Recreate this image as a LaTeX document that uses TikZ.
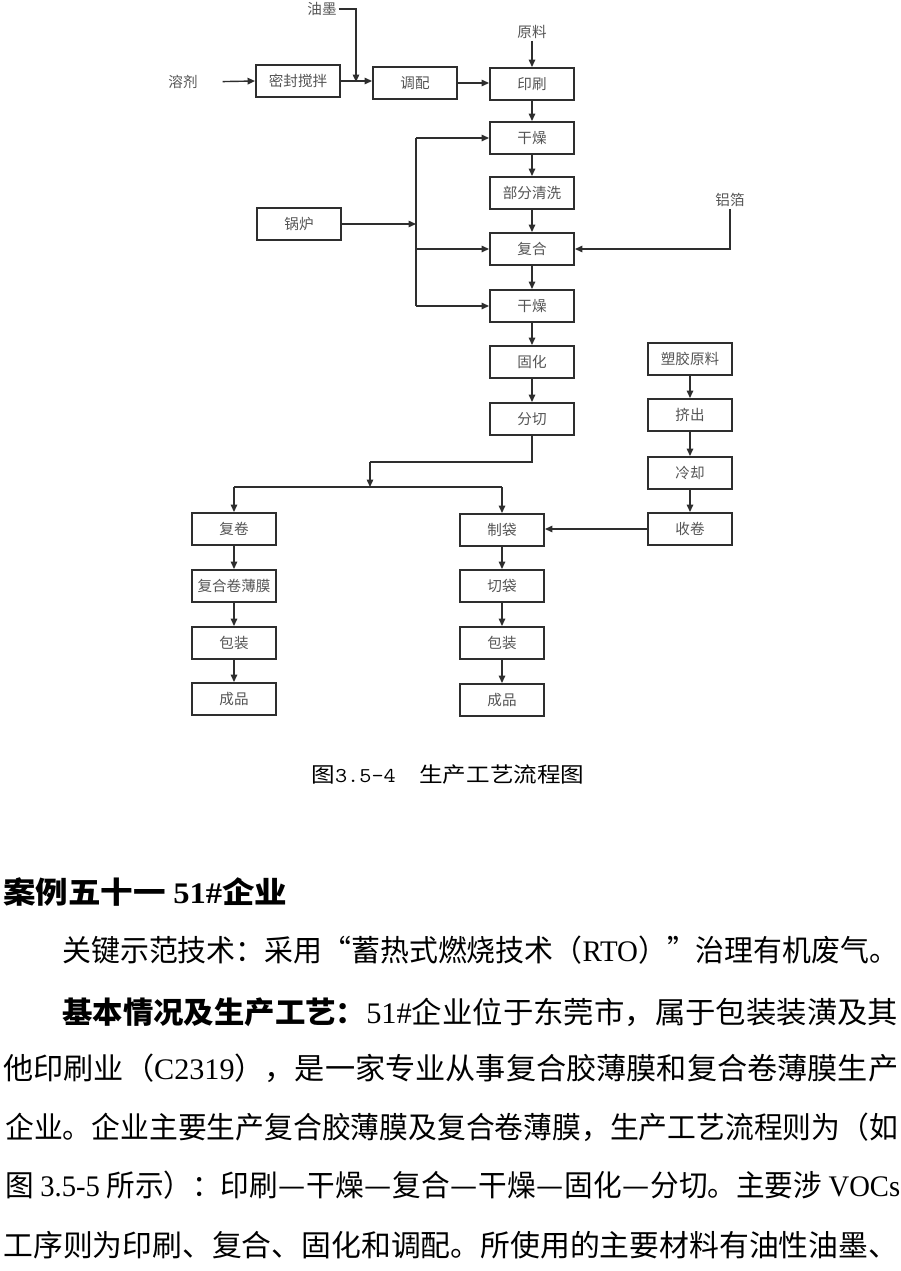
\documentclass[tikz,border=0pt]{standalone}
\usepackage{fontspec}
\setmainfont{Noto Sans CJK SC}
\newfontfamily\latinrm{Liberation Serif}
\definecolor{flujoLinea}{HTML}{2E2E2E}
\definecolor{flujoTexto}{HTML}{555555}
\newcommand{\guionlargo}{\makebox[1em]{\resizebox{0.95em}{\height}{—}}}
\usetikzlibrary{
	arrows.meta,
	positioning,
	calc
}

\begin{document}
\begin{tikzpicture}[x=0.02cm, y=-0.02cm,
		caja/.style={draw=flujoLinea, line width=1.1pt, fill=white, text=flujoTexto,
			minimum width=1.68cm, minimum height=0.64cm, inner sep=0pt,
			font=\fontsize{8.3pt}{9pt}\selectfont},
		etiq/.style={text=flujoTexto, inner sep=1pt, font=\fontsize{8.3pt}{9pt}\selectfont},
		flecha/.style={draw=flujoLinea, line width=0.8pt, -{Triangle[length=1.5mm,width=1.3mm]}},
		linea/.style={draw=flujoLinea, line width=0.8pt},
		renglon/.style={anchor=west, inner sep=0pt, font=\fontsize{17pt}{17pt}\selectfont}]
		
		% Fondo y margenes
		\fill[white] (0,0) rectangle (900,1271);
		\useasboundingbox (0,0) rectangle (900,1271);
		
		% Columna central
		\foreach \nom/\lab/\y in {ys/印刷/84, gz1/干燥/138, qx/部分清洗/193, fh/复合/249, gz2/干燥/306, gh/固化/362, fq/分切/419}{
			\node[caja] (\nom) at (532,\y) {\lab};
		}
		\foreach \a/\b in {ys/gz1, gz1/qx, qx/fh, fh/gz2, gz2/gh, gh/fq}{
			\draw[flecha] (\a) -- (\b);
		}
		
		% Fila superior
		\node[etiq] (rj) at (183,82) {溶剂};
		\node[caja] (mf) at (298,81) {密封搅拌};
		\node[caja] (tp) at (415,83) {调配};
		\node[etiq] (ym) at (322,9) {油墨};
		\node[etiq] (yl) at (532,32) {原料};
		\coordinate (hy) at (356,82);
		
		\draw[flecha] (rj.east) [shorten <=0.46cm] -- (mf.west);
		\draw[flecha] (mf.east) -- (mf.east -| tp.west);
		\draw[flecha] (ym.east) -| (hy);
		\draw[flecha] (tp.east) -- (tp.east -| ys.west);
		\draw[flecha] (yl.south) -- (ys.north);
		
		% Caldera y aluminio
		\node[caja] (gl) at (299,224) {锅炉};
		\node[etiq] (lb) at (730,200) {铝箔};
		\coordinate (gl0) at (416,224);
		
		\draw[flecha] (gl.east) -- (gl0);
		\draw[linea] (gl0 |- gz1) -- (gl0 |- gz2);
		\foreach \b in {gz1, fh, gz2}{
			\draw[flecha] (gl0 |- \b) -- (\b.west);
		}
		\draw[flecha] (lb.south) |- (fh.east);
		
		% Columna derecha
		\foreach \nom/\lab/\y in {sy/塑胶原料/359, jc/挤出/415, lq/冷却/473, sj/收卷/529}{
			\node[caja] (\nom) at (690,\y) {\lab};
		}
		\foreach \a/\b in {sy/jc, jc/lq, lq/sj}{
			\draw[flecha] (\a) -- (\b);
		}
		
		% Columnas inferiores
		\foreach \nom/\lab/\y in {fj/复卷/529, fm/复合卷薄膜/586, bz1/包装/643, cp1/成品/699}{
			\node[caja] (\nom) at (234,\y) {\lab};
		}
		\foreach \nom/\lab/\y in {zd/制袋/530, qd/切袋/586, bz2/包装/643, cp2/成品/700}{
			\node[caja] (\nom) at (502,\y) {\lab};
		}
		\foreach \a/\b in {fj/fm, fm/bz1, bz1/cp1, zd/qd, qd/bz2, bz2/cp2}{
			\draw[flecha] (\a) -- (\b);
		}
		\draw[flecha] (sj.west) -- (sj.west -| zd.east);
		
		% Reparto tras el corte
		\coordinate (rp1) at (370,462);
		\coordinate (rp2) at (370,487);
		\draw[linea] (fq.south) |- (rp1);
		\draw[flecha] (rp1) -- (rp2);
		\draw[linea] (fj.north |- rp2) -- (zd.north |- rp2);
		\draw[flecha] (fj.north |- rp2) -- (fj.north);
		\draw[flecha] (zd.north |- rp2) -- (zd.north);
		
		% Pie de figura
		\node[inner sep=0pt, font=\fontsize{12pt}{12pt}\selectfont] (pie) at (448,775)
			{\resizebox{5.46cm}{\height}{图{\ttfamily 3.5-4}\quad 生产工艺流程图}};
		
		% Texto del documento
		\node[renglon, font=\fontsize{17pt}{17pt}\selectfont\bfseries] (t0) at (3,892)
			{\resizebox{5.68cm}{\height}{案例五十一 {\latinrm\bfseries 51\#}企业}};
		\node[renglon] (t1) at (62,950)
			{\resizebox{16.72cm}{\height}{关键示范技术：采用“蓄热式燃烧技术（{\latinrm RTO}）”治理有机废气。}};
		\node[renglon] (t2) at (62,1012)
			{\resizebox{16.72cm}{\height}{{\bfseries 基本情况及生产工艺：}{\latinrm 51\#}企业位于东莞市，属于包装装潢及其}};
		\node[renglon] (t3) at (3,1068)
			{\resizebox{17.9cm}{\height}{他印刷业（{\latinrm C2319}），是一家专业从事复合胶薄膜和复合卷薄膜生产}};
		\node[renglon] (t4) at (5,1127)
			{\resizebox{17.86cm}{\height}{企业。企业主要生产复合胶薄膜及复合卷薄膜，生产工艺流程则为（如}};
		\node[renglon] (t5) at (5,1185)
			{\resizebox{17.9cm}{\height}{图 {\latinrm 3.5-5} 所示）：印刷\guionlargo 干燥\guionlargo 复合\guionlargo 干燥\guionlargo 固化\guionlargo 分切。主要涉 {\latinrm VOCs}}};
		\node[renglon] (t6) at (3,1245)
			{\resizebox{17.9cm}{\height}{工序则为印刷、复合、固化和调配。所使用的主要材料有油性油墨、}};
		
	\end{tikzpicture}
\end{document}
